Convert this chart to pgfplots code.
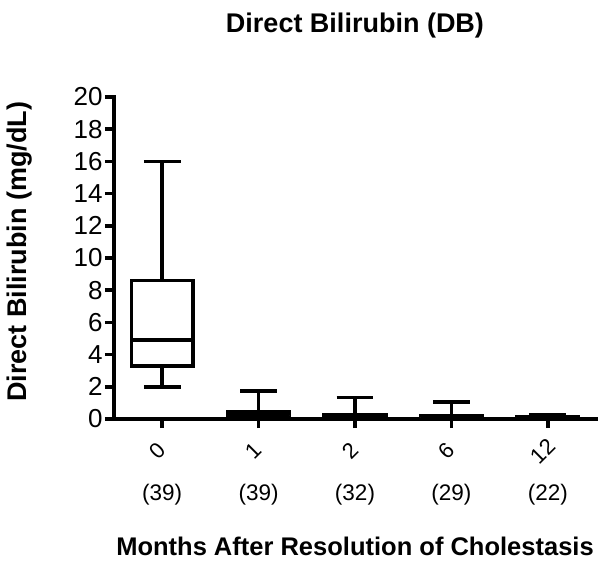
\documentclass[border=0pt]{standalone}
\usepackage{pgfplots}
\pgfplotsset{compat=1.18}
\usepgfplotslibrary{statistics}
\usepackage{fontspec}
\setmainfont{Liberation Sans}
\begin{document}
\begin{tikzpicture}
\begin{axis}[
    scale only axis,
    width=482pt, height=322pt,
    xmin=-0.5, xmax=4.5,
    ymin=0, ymax=20,
    axis lines*=left,
    axis line style={line width=3.5pt, line cap=rect},
    xtick={0,1,2,3,4},
    xticklabels={0,1,2,6,12},
    ytick={0,2,...,20},
    tick align=outside,
    major tick length=9pt,
    tick style={line width=3.5pt, black},
    /pgf/number format/assume math mode=true,
    tick label style={font=\fontsize{26}{30}\selectfont},
    xticklabel style={font=\fontsize{22}{26}\selectfont, inner sep=0pt, anchor=center, yshift=-23pt, xshift=-5pt, rotate=45},
    yticklabel style={xshift=1pt},
    clip=false,
    boxplot/draw direction=y,
    every boxplot/.style={black, line width=3.5pt, fill=white},
]
\addplot+[mark=none, boxplot prepared={draw position=0, lower whisker=2.0, lower quartile=3.3, median=4.9, upper quartile=8.6, upper whisker=16.0, box extend=0.64, whisker extend=0.38}] coordinates {};
\addplot+[mark=none, boxplot prepared={draw position=1, lower whisker=0, lower quartile=0.05, median=0.2, upper quartile=0.45, upper whisker=1.75, box extend=0.64, whisker extend=0.38}] coordinates {};
\addplot+[mark=none, boxplot prepared={draw position=2, lower whisker=0, lower quartile=0.05, median=0.15, upper quartile=0.25, upper whisker=1.35, box extend=0.64, whisker extend=0.38}] coordinates {};
\addplot+[mark=none, boxplot prepared={draw position=3, lower whisker=0, lower quartile=0.05, median=0.1, upper quartile=0.2, upper whisker=1.05, box extend=0.64, whisker extend=0.38}] coordinates {};
\addplot+[mark=none, boxplot prepared={draw position=4, lower whisker=0, lower quartile=0.05, median=0.1, upper quartile=0.15, upper whisker=0.25, box extend=0.64, whisker extend=0.38}] coordinates {};
\node[font=\fontsize{22.5}{26}\selectfont] at ([yshift=-76pt]axis cs:0,0) {(39)};
\node[font=\fontsize{22.5}{26}\selectfont] at ([yshift=-76pt]axis cs:1,0) {(39)};
\node[font=\fontsize{22.5}{26}\selectfont] at ([yshift=-76pt]axis cs:2,0) {(32)};
\node[font=\fontsize{22.5}{26}\selectfont] at ([yshift=-76pt]axis cs:3,0) {(29)};
\node[font=\fontsize{22.5}{26}\selectfont] at ([yshift=-76pt]axis cs:4,0) {(22)};
\node[font=\bfseries\fontsize{25.5}{30}\selectfont] at ([yshift=-127pt]axis cs:2.0,0) {Months After Resolution of Cholestasis};
\node[font=\bfseries\fontsize{27}{32}\selectfont] at ([yshift=71pt]axis cs:2.0,20) {Direct Bilirubin (DB)};
\node[font=\bfseries\fontsize{27}{32}\selectfont, rotate=90] at ([xshift=-94pt]axis cs:-0.5,10.4) {Direct Bilirubin (mg/dL)};
\end{axis}
\path (-114pt,-141pt) rectangle (490pt,419pt);
\end{tikzpicture}
\end{document}
